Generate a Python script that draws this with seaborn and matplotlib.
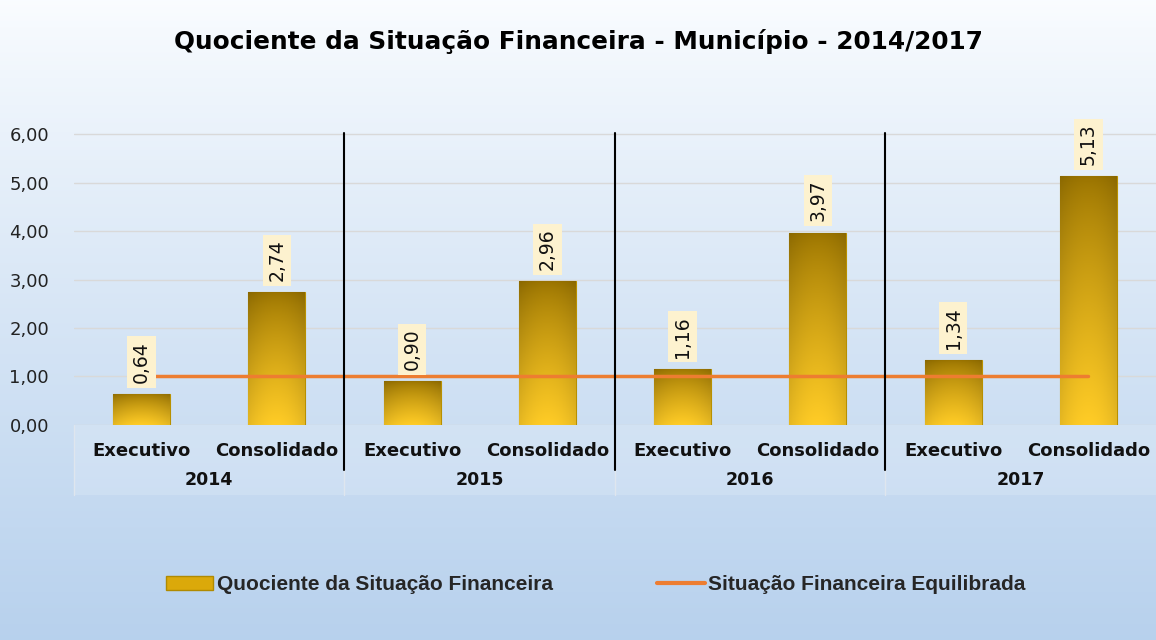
import numpy as np
import matplotlib
matplotlib.use("Agg")
import matplotlib.pyplot as plt
import matplotlib.transforms as mtransforms
from matplotlib.lines import Line2D
from matplotlib.patches import Patch, Rectangle
import seaborn as sns

# --- data -------------------------------------------------------------
anos = ["2014", "2015", "2016", "2017"]
entidades = ["Executivo", "Consolidado"]
quociente = [0.64, 2.74, 0.90, 2.96, 1.16, 3.97, 1.34, 5.13]
equilibrio = [1.00, 1.00, 1.00, 1.00, 1.00, 1.00, 1.00, 1.00]
y_ticks = [0, 1, 2, 3, 4, 5, 6]

titulo = "Quociente da Situação Financeira - Município - 2014/2017"
serie_barras = "Quociente da Situação Financeira"
serie_linha = "Situação Financeira Equilibrada"

categorias = [f"{e} {a}" for a in anos for e in entidades]


def fmt(v):
	return f"{v:.2f}".replace(".", ",")


def gold_image(n=120, m=40):
	t = np.linspace(0, 1, n)[:, None, None]
	s = np.linspace(-1, 1, m)[None, :, None]
	top = np.array([0.60, 0.45, 0.00])
	bot = np.array([1.00, 0.80, 0.15])
	base = top + (bot - top) * t ** 0.75
	edge = 1 - 0.10 * np.abs(s) ** 2
	return np.clip(base * edge, 0, 1)


sns.set_theme(style="white")
plt.rcParams["font.family"] = ["DejaVu Sans"]

fig = plt.figure(figsize=(11.56, 6.4), dpi=100)

# background gradient
bg = fig.add_axes([0, 0, 1, 1], zorder=0)
g = np.linspace(0, 1, 256)[:, None, None]
c_top = np.array([0.98, 0.99, 1.00])
c_bot = np.array([0.72, 0.82, 0.93])
bg.imshow(c_top + (c_bot - c_top) * g ** 0.9, aspect="auto", extent=[0, 1, 0, 1])
bg.axis("off")

ax = fig.add_axes([0.064, 0.336, 0.936, 0.456], zorder=1)
ax.patch.set_alpha(0)

sns.barplot(x=categorias, y=quociente, color="#e0a800", width=0.42,
			edgecolor="#b89000", linewidth=0.8, ax=ax)
bars = list(ax.patches)
img = gold_image()
for b in bars:
	x0, y0 = b.get_x(), b.get_y()
	im = ax.imshow(img, extent=[x0, x0 + b.get_width(), y0, y0 + b.get_height()],
				   aspect="auto", origin="upper", zorder=2)
	im.set_clip_path(b)

sns.lineplot(x=categorias, y=equilibrio, sort=False, color="#ed7d31", lw=2.5, ax=ax, zorder=3)

for b, v in zip(bars, quociente):
	ax.annotate(fmt(v), xy=(b.get_x() + b.get_width() / 2, v), xytext=(0, 8),
				textcoords="offset points", rotation=90, ha="center", va="bottom",
				fontsize=13.5, color="#111111", zorder=5,
				bbox=dict(boxstyle="square,pad=0.25", fc="#fdf2cf", ec="none"))

ax.set_xlim(-0.5, len(categorias) - 0.5)
ax.set_ylim(0, 6.02)
ax.set_yticks(y_ticks)
ax.set_yticklabels([fmt(t) for t in y_ticks], fontsize=13, color="#222222")
ax.set_xticks(range(len(categorias)))
ax.set_xticklabels(entidades * len(anos), fontsize=13, fontweight="bold", color="#111111")
ax.tick_params(axis="y", length=0, pad=18)
ax.tick_params(axis="x", length=0, pad=12)
ax.set_xlabel("")
ax.set_ylabel("")
ax.yaxis.grid(True, color="#d9d9d9", lw=1)
ax.set_axisbelow(True)
for sp in ax.spines.values():
	sp.set_visible(False)

trans = mtransforms.blended_transform_factory(ax.transData, ax.transAxes)
ax.add_patch(Rectangle((-0.5, -0.24), len(categorias), 0.24, transform=trans,
					   fc="white", alpha=0.15, ec="none", clip_on=False, zorder=0))
for i, a in enumerate(anos):
	ax.text(2 * i + 0.5, -0.188, a, transform=trans, ha="center", va="center",
			fontsize=12.5, fontweight="bold", color="#111111")
	xb = 2 * i - 0.5
	ax.plot([xb, xb], [-0.24, 0], transform=trans, color="#dfe6ee", lw=1, clip_on=False)
	if i > 0:
		ax.plot([xb, xb], [-0.155, 1.0], transform=trans, color="black", lw=1.5,
				clip_on=False, zorder=4)

fig.text(0.5, 1 - 42 / 640, titulo, ha="center", va="center", fontsize=17.8,
		 fontweight="bold", color="black")

handles = [Patch(fc="#dba90a", ec="#b08a00"), Line2D([], [], color="#ed7d31", lw=3)]
fig.legend(handles, [serie_barras, serie_linha], loc="center", bbox_to_anchor=(0.515, 0.086),
		   ncol=2, frameon=False, columnspacing=5.0, handlelength=2.3, handletextpad=0.15,
		   prop=dict(family=["Liberation Sans", "DejaVu Sans"], weight="bold", size=15))

fig.savefig("out.png", dpi=100)
